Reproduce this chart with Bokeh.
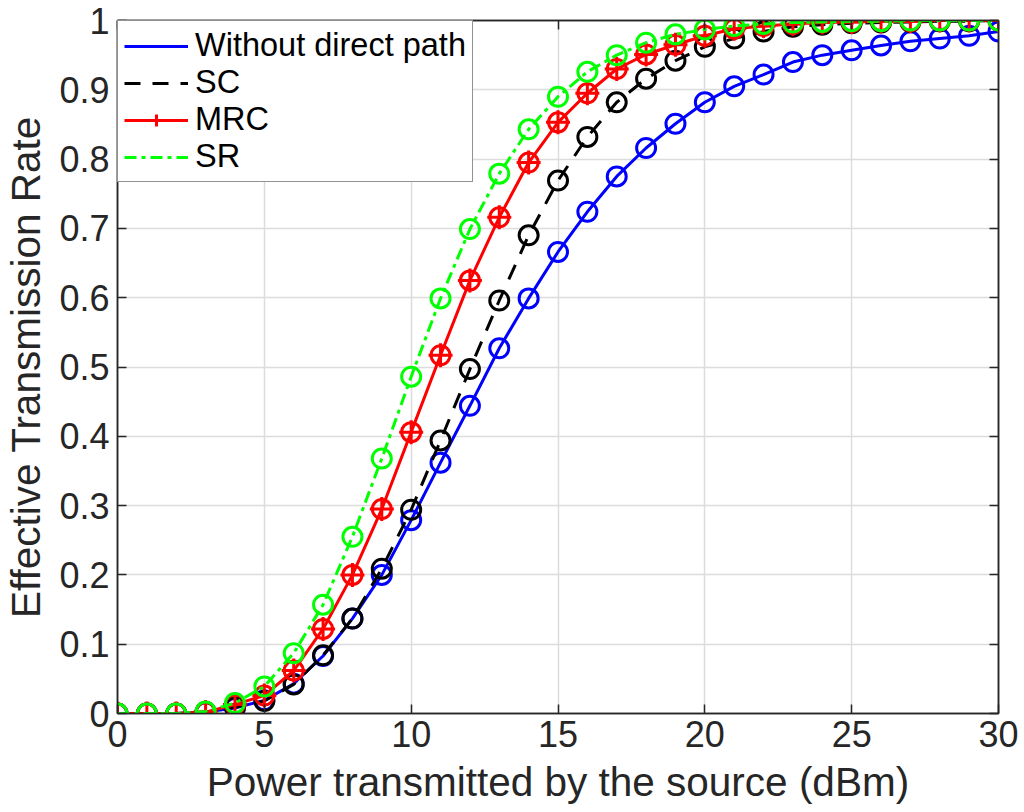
from bokeh.plotting import figure
from bokeh.models import (Range1d, FixedTicker, LinearAxis, Legend, LegendItem)
from bokeh.embed import file_html
from bokeh.resources import INLINE

# ---------------- data ----------------
power_dbm = list(range(0, 31))

without_direct = [0, 0, 0, 0.002, 0.008, 0.019, 0.043, 0.083, 0.137, 0.200,
                  0.279, 0.362, 0.444, 0.527, 0.599, 0.666, 0.724, 0.775, 0.816, 0.851,
                  0.882, 0.905, 0.922, 0.940, 0.950, 0.957, 0.964, 0.970, 0.974, 0.978,
                  0.984]
sc = [0, 0, 0, 0.002, 0.009, 0.018, 0.042, 0.084, 0.137, 0.209,
      0.294, 0.394, 0.497, 0.596, 0.690, 0.769, 0.832, 0.882, 0.916, 0.942,
      0.962, 0.974, 0.984, 0.991, 0.994, 0.996, 0.997, 0.998, 0.999, 0.999,
      1.0]
mrc = [0, 0, 0, 0.002, 0.013, 0.026, 0.062, 0.122, 0.200, 0.295,
       0.406, 0.517, 0.625, 0.716, 0.795, 0.853, 0.895, 0.930, 0.951, 0.965,
       0.978, 0.988, 0.992, 0.995, 0.997, 0.998, 0.999, 0.999, 1.0, 1.0,
       1.0]
sr = [0, 0, 0, 0.003, 0.015, 0.039, 0.087, 0.157, 0.255, 0.368,
      0.486, 0.599, 0.699, 0.779, 0.843, 0.890, 0.926, 0.950, 0.968, 0.980,
      0.987, 0.992, 0.995, 0.997, 0.998, 0.999, 0.999, 1.0, 1.0, 1.0,
      1.0]

series_names = ["Without direct path", "SC", "MRC", "SR"]

x_ticks = [0, 5, 10, 15, 20, 25, 30]
y_ticks = [0, 0.1, 0.2, 0.3, 0.4, 0.5, 0.6, 0.7, 0.8, 0.9, 1]
y_tick_labels = ["0", "0.1", "0.2", "0.3", "0.4", "0.5", "0.6", "0.7", "0.8", "0.9", "1"]

x_label = "Power transmitted by the source (dBm)"
y_label = "Effective Transmission Rate"

# ---------------- styling ----------------
FONT = "Liberation Sans"
TXT = "#262626"
TICK_FS = "36px"
LABEL_FS = "40.5px"
LEGEND_FS = "32.5px"

p = figure(frame_width=881, frame_height=693,
           x_range=Range1d(0, 30), y_range=Range1d(0, 1),
           output_backend="svg", toolbar_location=None,
           min_border_left=100, min_border_top=20, min_border_right=20,
           min_border_bottom=60)
p.background_fill_color = "white"
p.border_fill_color = "white"
p.outline_line_color = TXT
p.outline_line_width = 1.5

def style_axis(ax):
    ax.axis_line_color = TXT
    ax.axis_line_width = 1.5
    ax.major_tick_line_color = TXT
    ax.major_tick_line_width = 1.5
    ax.major_tick_in = 9
    ax.major_tick_out = 0
    ax.minor_tick_line_color = None
    ax.major_label_text_font = FONT
    ax.major_label_text_color = TXT
    ax.major_label_text_font_size = TICK_FS
    ax.axis_label_text_font = FONT
    ax.axis_label_text_color = TXT
    ax.axis_label_text_font_size = LABEL_FS
    ax.axis_label_text_font_style = "normal"

xa = p.xaxis[0]
ya = p.yaxis[0]
xa.ticker = FixedTicker(ticks=x_ticks)
ya.ticker = FixedTicker(ticks=y_ticks)
ya.major_label_overrides = {t: l for t, l in zip(y_ticks, y_tick_labels)}
style_axis(xa)
style_axis(ya)
xa.axis_label = x_label
ya.axis_label = y_label
xa.major_label_standoff = 7
ya.major_label_standoff = 8
xa.axis_label_standoff = 9
ya.axis_label_standoff = 7

# mirror axes (ticks only, no labels) on top and right
top_ax = LinearAxis(ticker=FixedTicker(ticks=x_ticks))
right_ax = LinearAxis(ticker=FixedTicker(ticks=y_ticks))
for ax in (top_ax, right_ax):
    style_axis(ax)
    ax.major_label_text_font_size = "1px"
    ax.major_label_text_alpha = 0
    ax.major_label_standoff = 0
p.add_layout(top_ax, "above")
p.add_layout(right_ax, "right")

p.xgrid.ticker = FixedTicker(ticks=x_ticks)
p.ygrid.ticker = FixedTicker(ticks=y_ticks)
for g in (p.xgrid[0], p.ygrid[0]):
    g.grid_line_color = "#dcdcdc"
    g.grid_line_width = 1.5

LW = 3
MS = 19

# Without direct path (blue)
l_blue = p.line(power_dbm, without_direct, line_color="#0000ff", line_width=LW)
p.scatter(power_dbm, without_direct, marker="circle", size=MS, fill_color=None,
          line_color="#0000ff", line_width=LW)

# SC (black dashed)
l_black = p.line(power_dbm, sc, line_color="black", line_width=LW, line_dash="16 12")
p.scatter(power_dbm, sc, marker="circle", size=MS, fill_color=None,
          line_color="black", line_width=LW)

# MRC (red, plus markers)
l_red = p.line(power_dbm, mrc, line_color="#ff0000", line_width=LW)
m_red = p.scatter(power_dbm, mrc, marker="cross", size=24, line_color="#ff0000",
                  line_width=LW)
p.scatter(power_dbm, mrc, marker="circle", size=MS, fill_color=None,
          line_color="#ff0000", line_width=LW)

# SR (green dash-dot)
l_green = p.line(power_dbm, sr, line_color="#00ff00", line_width=LW,
                 line_dash="12 5 4 5")
p.scatter(power_dbm, sr, marker="circle", size=MS, fill_color=None,
          line_color="#00ff00", line_width=LW)

legend = Legend(items=[
    LegendItem(label=series_names[0], renderers=[l_blue]),
    LegendItem(label=series_names[1], renderers=[l_black]),
    LegendItem(label=series_names[2], renderers=[l_red, m_red]),
    LegendItem(label=series_names[3], renderers=[l_green]),
], location="top_left")
legend.margin = 0
legend.padding = 6
legend.spacing = 0
legend.glyph_width = 64
legend.glyph_height = 30
legend.label_height = 30
legend.label_standoff = 7
legend.label_text_font = FONT
legend.label_text_font_size = LEGEND_FS
legend.label_text_color = "black"
legend.border_line_color = TXT
legend.border_line_width = 1.5
legend.background_fill_color = "white"
legend.background_fill_alpha = 1
p.add_layout(legend)

open("out.html", "w").write(file_html(p, INLINE))
